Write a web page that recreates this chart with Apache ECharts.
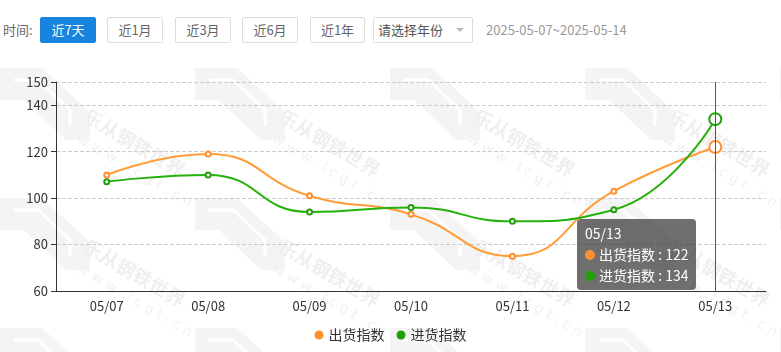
<!DOCTYPE html>
<html>
<head>
<meta charset="utf-8">
<script src="https://cdn.jsdelivr.net/npm/echarts@6/dist/echarts.min.js"></script>
<style>
  html, body { margin: 0; padding: 0; background: #fff; }
  body { width: 781px; height: 352px; position: relative; overflow: hidden;
    font-family: "Noto Sans CJK SC", "Microsoft YaHei", sans-serif; font-size: 13px; color: #666; }
  .bar { position: absolute; left: 0; top: 17px; height: 26px; width: 781px; z-index: 2; }
  .bar > * { position: absolute; top: 0; height: 26px; line-height: 24px; box-sizing: border-box; }
  .lbl { left: 3px; line-height: 26px; }
  .btn { width: 56px; border: 1px solid #ddd; border-radius: 2px; text-align: center; background: #fff; color: #666; }
  .btn.on { background: #1784e0; border-color: #1784e0; color: #fff; }
  .sel { left: 373px; width: 100px; border: 1px solid #ddd; border-radius: 2px; padding-left: 4px; color: #555; }
  .sel::after { content: ""; position: absolute; right: 8px; top: 10px; border: 4px solid transparent; border-top-color: #bbb; }
  .date { left: 486px; color: #999; line-height: 26px; }
  #chart { position: absolute; left: 0; top: 60px; width: 781px; height: 292px; }
</style>
</head>
<body>
<div class="bar">
  <span class="lbl">时间:</span>
  <span class="btn on" style="left:40px">近7天</span>
  <span class="btn" style="left:107px">近1月</span>
  <span class="btn" style="left:175px">近3月</span>
  <span class="btn" style="left:242px">近6月</span>
  <span class="btn" style="left:310px;width:55px">近1年</span>
  <span class="sel">请选择年份</span>
  <span class="date">2025-05-07~2025-05-14</span>
</div>
<div id="chart"></div>
<script>
const DATES = ["05/07", "05/08", "05/09", "05/10", "05/11", "05/12", "05/13"];
const OUT_INDEX = [110, 119, 101, 93, 75, 103, 122];
const IN_INDEX = [107, 110, 94, 96, 90, 95, 134];
const SERIES_NAMES = ["出货指数", "进货指数"];
const COLORS = ["#ff8f33", "#22a00a"];

// faint tiled watermark behind the plot
function buildWatermark() {
  const items = [];
  for (let i = 0; i < 5; i++) {
    for (let j = 0; j < 3; j++) {
      const ox = i * 195;
      const oy = 8 + j * 130;
      items.push({
        type: "polygon", silent: true, z: -10,
        shape: { points: [[ox, oy], [ox + 42, oy], [ox + 90, oy + 44], [ox + 90, oy + 72],
          [ox + 66, oy + 72], [ox + 24, oy + 32], [ox, oy + 32]] },
        style: { fill: "#f4f4f4" }
      });
      items.push({
        type: "polyline", silent: true, z: -9,
        shape: { points: [[ox + 14, oy + 12], [ox + 38, oy + 12], [ox + 70, oy + 42], [ox + 70, oy + 58]] },
        style: { stroke: "#fff", lineWidth: 3, fill: null }
      });
      items.push({
        type: "text", silent: true, z: -10, x: ox + 90, y: oy + 38, rotation: -0.53,
        style: { text: "乐从钢铁世界", fill: "#efefef", font: "bold 19px 'Noto Sans CJK SC'" }
      });
      items.push({
        type: "text", silent: true, z: -10, x: ox + 82, y: oy + 64, rotation: -0.53,
        style: { text: "w w w . l c g t . c n", fill: "#f1f1f1", font: "14px 'DejaVu Sans'" }
      });
    }
  }
  return items;
}

const chart = echarts.init(document.getElementById("chart"));

chart.setOption({
  animation: false,
  color: COLORS,
  textStyle: { fontFamily: "'Noto Sans CJK SC', sans-serif" },
  graphic: buildWatermark(),
  grid: { left: 56, right: 15, top: 22, bottom: 61 },
  tooltip: {
    trigger: "axis",
    backgroundColor: "rgba(50,50,50,0.7)",
    borderWidth: 0,
    padding: [4, 8, 4, 8],
    textStyle: { color: "#fff", fontSize: 14 },
    axisPointer: { type: "line", lineStyle: { color: "#555", type: "solid", width: 1 } },
    position(pt, params, dom, rect, size) {
      return [pt[0] - size.contentSize[0] - 19, 159];
    },
    formatter(params) {
      let html = params[0].axisValue;
      params.forEach((p) => {
        html += "<br/>" + p.marker + p.seriesName + " : " + p.value;
      });
      return html;
    },
    extraCssText: "line-height:21px;border-radius:4px;box-shadow:none;"
  },
  legend: {
    bottom: 5,
    data: SERIES_NAMES,
    icon: "circle",
    itemWidth: 9,
    itemHeight: 9,
    itemGap: 12,
    textStyle: { color: "#333", fontSize: 14 }
  },
  xAxis: {
    type: "category",
    data: DATES,
    axisLine: { lineStyle: { color: "#333" } },
    axisTick: { alignWithLabel: true, lineStyle: { color: "#333" } },
    axisLabel: { color: "#333", fontSize: 13, margin: 9 }
  },
  yAxis: {
    type: "value",
    min: 60,
    max: 150,
    interval: 20,
    axisLine: { show: true, lineStyle: { color: "#333" } },
    axisTick: { show: true, lineStyle: { color: "#333" } },
    axisLabel: { color: "#333", fontSize: 13 },
    splitLine: { lineStyle: { color: "#ccc", type: "dashed" } }
  },
  series: [
    {
      name: SERIES_NAMES[0], type: "line", smooth: true, data: OUT_INDEX,
      symbol: "emptyCircle", symbolSize: 5, lineStyle: { width: 2 },
      emphasis: { scale: 2.4 }
    },
    {
      name: SERIES_NAMES[1], type: "line", smooth: true, data: IN_INDEX,
      symbol: "emptyCircle", symbolSize: 5, lineStyle: { width: 2 },
      emphasis: { scale: 2.4 }
    }
  ]
});

chart.dispatchAction({ type: "showTip", x: 715, y: 139 });
</script>
</body>
</html>
